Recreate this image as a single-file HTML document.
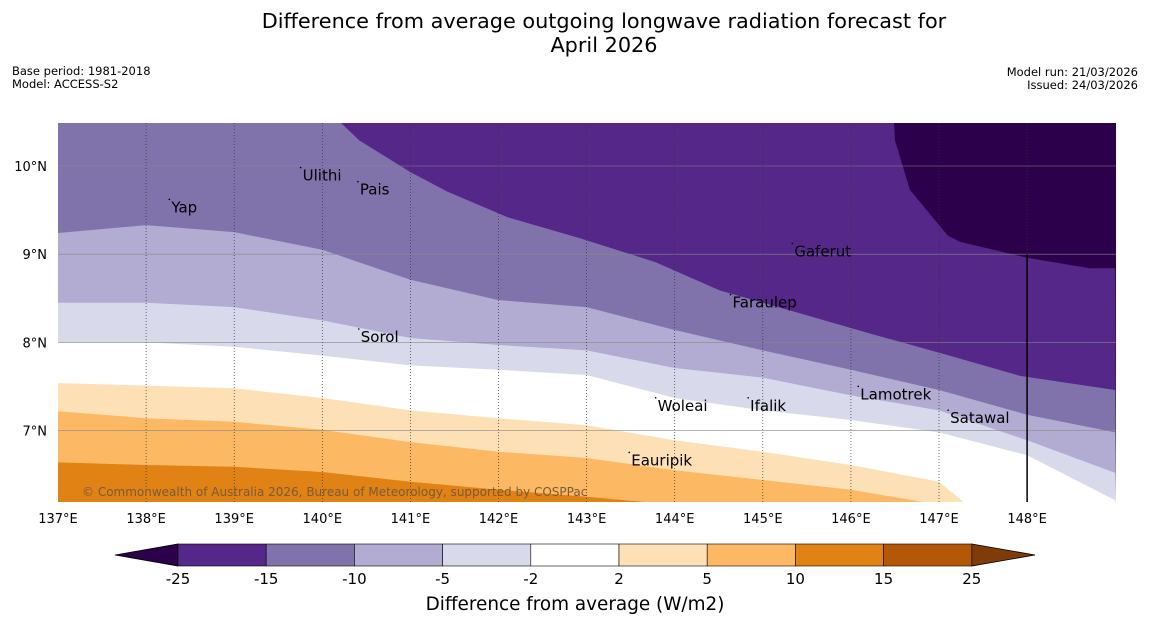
<!DOCTYPE html>
<html><head><meta charset="utf-8"><style>
html,body{margin:0;padding:0;background:#fff;overflow:hidden;width:1150px;height:644px;font-family:"Liberation Sans","DejaVu Sans",sans-serif;}
svg{display:block;}
svg text{font-family:"DejaVu Sans","Liberation Sans",sans-serif;}
</style></head><body>
<svg id="c" width="1150" height="644" viewBox="0 0 1150 644">
<text x="604" y="28" font-size="20.8" text-anchor="middle">Difference from average outgoing longwave radiation forecast for</text>
<text x="604" y="52" font-size="20.8" text-anchor="middle">April 2026</text>
<text x="12" y="75" font-size="11.5">Base period: 1981-2018</text>
<text x="12" y="88" font-size="11.5">Model: ACCESS-S2</text>
<text x="1138" y="76" font-size="11.5" text-anchor="end">Model run: 21/03/2026</text>
<text x="1138" y="89" font-size="11.5" text-anchor="end">Issued: 24/03/2026</text>
<defs><clipPath id="pc"><rect x="58" y="123" width="1058" height="379"/></clipPath></defs>
<g id="map" clip-path="url(#pc)"></g>
<g id="over"></g>
<g id="cb"></g>
<text x="575" y="610" font-size="18.4" text-anchor="middle">Difference from average (W/m2)</text>
</svg>
<script>
const NS="http://www.w3.org/2000/svg";
// contour boundaries: latitudes at longitudes
const lonsInt=[137,138,139,140,141,142,143,144,145,146,147,148,149];
const b10=[6.64,6.61,6.59,6.53,6.42,6.33,6.25,6.16];
const b5=[7.22,7.14,7.10,7.01,6.87,6.76,6.69,6.55,6.44,6.33,6.16];
const b2=[7.54,7.51,7.48,7.37,7.23,7.14,7.06,6.89,6.76,6.61,6.42,5.6];
const bm2=[8.0,8.0,7.95,7.85,7.74,7.69,7.63,7.37,7.23,7.12,6.98,6.72,6.21];
const bm5=[8.45,8.45,8.40,8.25,8.05,7.97,7.91,7.71,7.60,7.40,7.23,6.89,6.52];
const bm10=[9.24,9.33,9.25,9.05,8.71,8.48,8.40,8.14,7.91,7.69,7.46,7.18,6.98];
const bm15Lon=[137,140.2,140.21,140.42,141.0,141.42,142.10,142.93,143.78,144.51,145.42,146.22,147.12,147.92,149];
const bm15Lat=[10.6,10.6,10.49,10.29,9.93,9.71,9.42,9.18,8.91,8.59,8.33,8.10,7.85,7.62,7.46];
const bm25Lon=[146.48,146.49,146.50,146.67,147.10,147.24,148.0,148.71,149];
const bm25Lat=[10.6,10.49,10.29,9.73,9.21,9.14,8.96,8.84,8.84];
const colors=["#e08214","#fdb863","#fee0b6","#ffffff","#d8daeb","#b2abd2","#8073ac","#542788","#2d004b"];
const cbLevels=["-25","-15","-10","-5","-2","2","5","10","15","25"];
const cbColors=["#542788","#8073ac","#b2abd2","#d8daeb","#ffffff","#fee0b6","#fdb863","#e08214","#b35806"];
const islands=[["Yap",138.23,9.52],["Ulithi",139.72,9.88],["Pais",140.37,9.72],["Gaferut",145.3,9.02],["Faraulep",144.6,8.44],["Sorol",140.38,8.05],["Lamotrek",146.05,7.4],["Woleai",143.75,7.27],["Ifalik",144.8,7.27],["Satawal",147.07,7.13],["Eauripik",143.45,6.65]];
const X=lon=>58+(lon-137)*88.1;
const Y=lat=>166+(10-lat)*88.2;
const map=document.getElementById('map');
function el(t,a,p){const e=document.createElementNS(NS,t);for(const k in a)e.setAttribute(k,a[k]);(p||map).appendChild(e);return e;}
const bg=el('rect',{x:58,y:123,width:1058,height:379,fill:colors[0]});


const YMAX=505;
function band(lons,lats,col,name){
  const pts=[];
  for(let i=0;i<lons.length;i++){
    const x=X(lons[i]),y=Y(lats[i]);
    if(y<=YMAX){pts.push([x,y]);continue;}
    if(i>0){const px=X(lons[i-1]),py=Y(lats[i-1]);
      if(py<YMAX){const t=(YMAX-py)/(y-py);pts.push([px+t*(x-px),YMAX]);}}
    pts.push([x,YMAX]);
  }
  let d="M"+pts.map(p=>p[0]+","+p[1]).join(" L");
  const lx=pts[pts.length-1][0];
  d+=" L"+Math.min(lx+1,1117)+","+YMAX+" L1117,"+YMAX+" L1117,115 L56,115 L56,"+pts[0][1]+" Z";
  const p=el('path',{d:d,fill:col});
  
  
}
band(lonsInt.slice(0,b10.length),b10,colors[1],'band-5-10');
band(lonsInt.slice(0,b5.length),b5,colors[2],'band-2-5');
band(lonsInt.slice(0,b2.length),b2,colors[3],'band-neutral');
band(lonsInt,bm2,colors[4],'band-m5-m2');
band(lonsInt,bm5,colors[5],'band-m10-m5');
band(lonsInt,bm10,colors[6],'band-m15-m10');
band(bm15Lon,bm15Lat,colors[7],'band-m25-m15');
band(bm25Lon,bm25Lat,colors[8],'band-below-m25');
// gridlines
for(let lat=7;lat<=10;lat++){const l=el('line',{x1:58,x2:1116,y1:Y(lat),y2:Y(lat),stroke:'#888','stroke-width':0.6});

}
for(let lon=138;lon<=148;lon++){const l=el('line',{x1:X(lon),x2:X(lon),y1:123,y2:502,stroke:'#333','stroke-width':0.7,'stroke-dasharray':'1,2'});

}
const vl=el('line',{x1:X(148),x2:X(148),y1:Y(9),y2:502,stroke:'#000','stroke-width':1.5});


// islands
islands.forEach(([n,lon,lat])=>{
  const d=el('circle',{cx:X(lon)+3,cy:Y(lat)-9,r:0.8,fill:'#000'});
  
  
  const t=el('text',{x:X(lon)+5,y:Y(lat)+4,'font-size':15,fill:'#000'});
  t.textContent=n;
  
  
});
const cp=el('text',{x:82,y:496,'font-size':12,fill:'#7a5a3a'});
cp.textContent="© Commonwealth of Australia 2026, Bureau of Meteorology, supported by COSPPac";


const over=document.getElementById('over');
for(let lat=7;lat<=10;lat++){const t=el('text',{x:47,y:Y(lat)+5,'font-size':13,'text-anchor':'end'},over);t.textContent=lat+"°N";

}
for(let lon=137;lon<=148;lon++){const t=el('text',{x:X(lon),y:523,'font-size':13,'text-anchor':'middle'},over);t.textContent=lon+"°E";

}
// colorbar
const cb=document.getElementById('cb');
const cx0=178,cw=88.2,cy=544,ch=22;
const la=el('polygon',{points:`115,${cy+ch/2} ${cx0},${cy} ${cx0},${cy+ch}`,fill:'#2d004b',stroke:'#000','stroke-width':0.8},cb);


const xe=cx0+cw*cbColors.length;
const ra=el('polygon',{points:`${xe},${cy} 1035,${cy+ch/2} ${xe},${cy+ch}`,fill:'#7f3b08',stroke:'#000','stroke-width':0.8},cb);


cbColors.forEach((c,i)=>{const r=el('rect',{x:cx0+i*cw,y:cy,width:cw,height:ch,fill:c,stroke:'#000','stroke-width':0.6},cb);

});
cbLevels.forEach((v,i)=>{const t=el('text',{x:cx0+i*cw,y:584,'font-size':15,'text-anchor':'middle'},cb);t.textContent=v;

});
</script>
</body></html>
